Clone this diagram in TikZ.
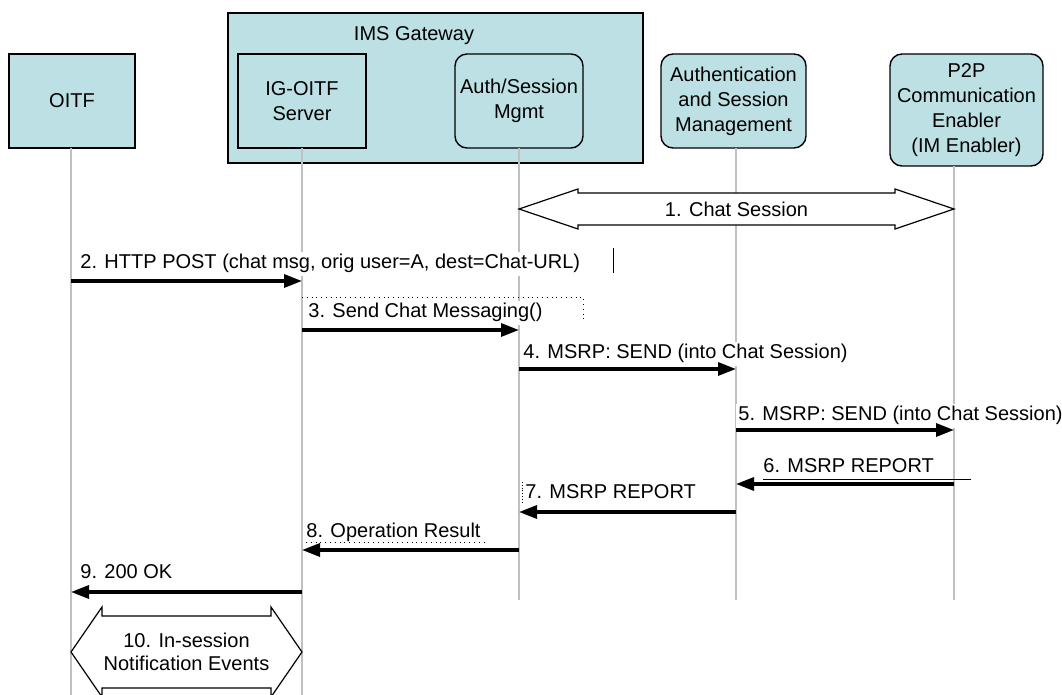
\documentclass[tikz,border=0pt]{standalone}
\usepackage{fontspec}
\setmainfont{Liberation Sans}
\usetikzlibrary{arrows.meta,calc}
\definecolor{gwteal}{RGB}{188,224,227}
\definecolor{lifegray}{RGB}{192,192,192}

\begin{document}
\begin{tikzpicture}[
    x=0.5pt, y=-0.5pt,
    font=\fontsize{10}{12.5}\selectfont,
    box/.style={rectangle, draw=black, fill=gwteal, line width=0.7pt, minimum width=#1, minimum height=47pt, inner sep=0pt, align=center},
    box/.default=64pt,
    rbox/.style={box=#1, rounded corners=6pt},
    rbox/.default=64pt,
    life/.style={draw=lifegray, line width=0.8pt},
    msg/.style={-{Triangle[length=9pt, width=6.5pt]}, line width=1.6pt},
    lbl/.style={fill=white, anchor=west, inner xsep=1pt, inner ysep=1pt, text height=7.5pt, text depth=2.5pt},
    fat/.style={draw=black, fill=white, line width=0.6pt},
    frag/.style={line width=0.4pt}
]

\useasboundingbox (0,0) rectangle (1062,695);
\clip (0,0) rectangle (1062,695);

% Main components
\node[box=207.5pt, minimum height=75pt, line width=1pt] (ims) at (435.5,88) {};
\node (imslabel) at (414,36) {IMS Gateway};
\node[box=63pt] (oitf) at (72,101) {OITF};
\node[box] (igs) at (302,101) {IG-OITF\\Server};
\node[rbox] (asm) at (519,101) {Auth/Session\\Mgmt};
\node[rbox=72.5pt] (auth) at (733.5,101) {Authentication\\and Session\\Management};
\node[rbox=76.5pt, minimum height=56pt] (p2p) at (966.5,110) {P2P\\Communication\\Enabler\\(IM Enabler)};

% Lifelines
\coordinate (oitf-top) at (71,148);
\coordinate (igs-top) at (302,148);
\coordinate (asm-top) at (519,148);
\coordinate (auth-top) at (736,148);
\coordinate (p2p-top) at (954,166);
\draw[life] (oitf-top) -- (oitf-top |- 0,695);
\draw[life] (igs-top) -- (igs-top |- 0,695);
\draw[life] (asm-top) -- (asm-top |- 0,600);
\draw[life] (auth-top) -- (auth-top |- 0,600);
\draw[life] (p2p-top) -- (p2p-top |- 0,600);

% 1. Chat session
\coordinate (cs-l) at (asm-top |- 0,209);
\coordinate (cs-r) at (p2p-top |- 0,209);
\draw[fat] (cs-l) -- ++(59,-20) -- ++(0,4) -- ++(317,0) -- ++(0,-4) -- (cs-r)
    -- ++(-59,20) -- ++(0,-4) -- ++(-317,0) -- ++(0,4) -- cycle;
\node (cs) at ($(cs-l)!0.5!(cs-r)$) {1. Chat Session};

% Message labels
\node[lbl] (m2) at (78,264) {2. HTTP POST (chat msg, orig user=A, dest=Chat-URL)};
\node[lbl] (m3) at (306,313) {3. Send Chat Messaging()};
\node[lbl] (m4) at (521,354) {4. MSRP: SEND (into Chat Session)};
\node[lbl] (m5) at (736,416) {5. MSRP: SEND (into Chat Session)};
\node[lbl] (m6) at (761,468) {6. MSRP REPORT};
\node[lbl] (m7) at (523,494) {7. MSRP REPORT};
\node[lbl] (m8) at (304,533) {8. Operation Result};
\node[lbl] (m9) at (78,574) {9. 200 OK};

% Text frame leftovers
\draw[frag] (613,248) -- (613,273);
\draw[frag, dotted] (302,297) -- (583,297) -- (583,322);
\draw[frag] (763,479) -- (971,479);
\draw[frag, densely dotted] (522,482) -- (522,503);
\draw[frag, dotted] (306,542) -- (487,542);

% Messages
\draw[msg] (oitf-top |- 0,281) -- (igs-top |- 0,281);
\draw[msg] (igs-top |- 0,330) -- (asm-top |- 0,330);
\draw[msg] (asm-top |- 0,369) -- (auth-top |- 0,369);
\draw[msg] (auth-top |- 0,430) -- (p2p-top |- 0,430);
\draw[msg] (p2p-top |- 0,484) -- (auth-top |- 0,484);
\draw[msg] (auth-top |- 0,512) -- (asm-top |- 0,512);
\draw[msg] (asm-top |- 0,550) -- (igs-top |- 0,550);
\draw[msg] (igs-top |- 0,592) -- (oitf-top |- 0,592);

% 10. In-session events
\coordinate (ev-l) at (oitf-top |- 0,652);
\coordinate (ev-r) at (igs-top |- 0,652);
\draw[fat] (ev-l) -- ++(31,-45) -- ++(0,9) -- ++(169,0) -- ++(0,-9) -- (ev-r)
    -- ++(-31,45) -- ++(0,-9) -- ++(-169,0) -- ++(0,9) -- cycle;
\node[align=center, font=\fontsize{10}{11.5}\selectfont] (ev) at ($(ev-l)!0.5!(ev-r)$) {10. In-session\\Notification Events};

\end{tikzpicture}
\end{document}
